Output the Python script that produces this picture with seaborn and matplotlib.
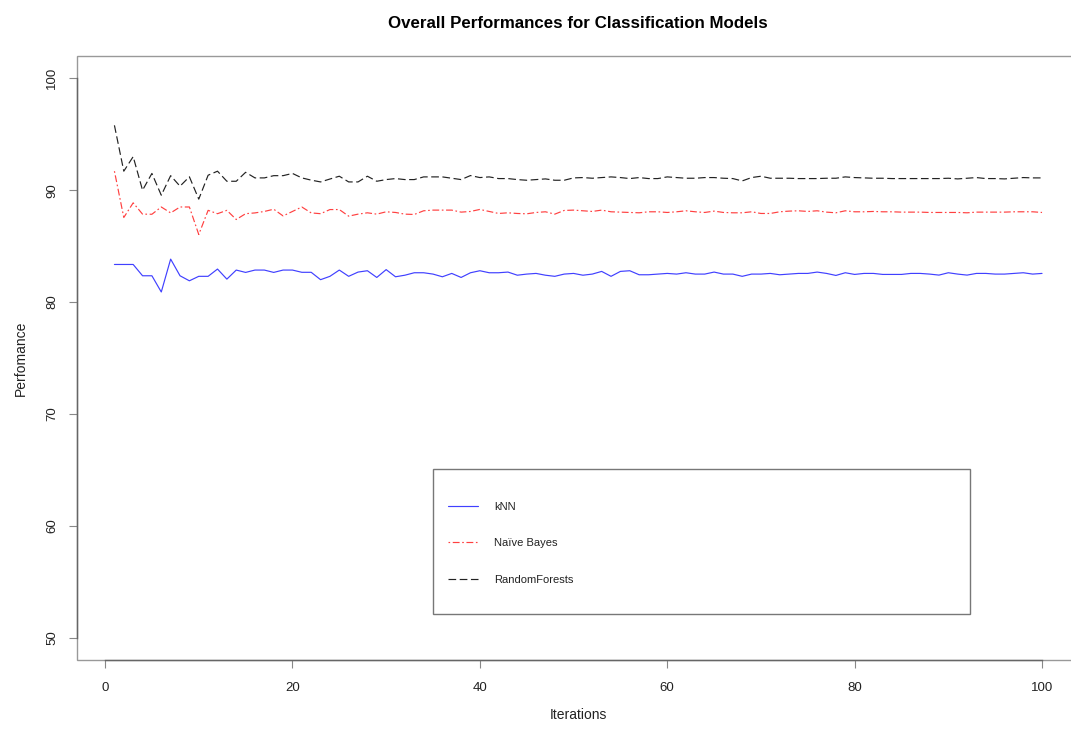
import numpy as np
import pandas as pd
import matplotlib
matplotlib.use("Agg")
import matplotlib.pyplot as plt
from matplotlib.patches import Rectangle
import seaborn as sns

# Values
iterations = list(range(1, 101))

knn = [83.36, 83.36, 83.36, 82.35, 82.35, 80.9, 83.84, 82.35, 81.9, 82.3,
       82.3, 82.95, 82.05, 82.86, 82.65, 82.86, 82.86, 82.65, 82.86, 82.86,
       82.66, 82.66, 82.0, 82.3, 82.86, 82.3, 82.68, 82.8, 82.2, 82.9,
       82.26, 82.4, 82.62, 82.62, 82.5, 82.26, 82.56, 82.2, 82.62, 82.8,
       82.62, 82.62, 82.68, 82.4, 82.5, 82.56, 82.4, 82.3, 82.5, 82.56,
       82.4, 82.5, 82.74, 82.3, 82.74, 82.8, 82.44, 82.44, 82.5, 82.56,
       82.5, 82.62, 82.5, 82.5, 82.68, 82.5, 82.5, 82.3, 82.5, 82.5,
       82.56, 82.44, 82.5, 82.56, 82.56, 82.68, 82.56, 82.38, 82.62, 82.47,
       82.56, 82.56, 82.47, 82.47, 82.47, 82.56, 82.56, 82.5, 82.41, 82.62,
       82.5, 82.41, 82.56, 82.56, 82.5, 82.5, 82.56, 82.62, 82.5, 82.56]

naive_bayes = [91.7, 87.56, 88.87, 87.86, 87.85, 88.5, 87.97, 88.5, 88.5, 86.04,
               88.2, 87.9, 88.2, 87.38, 87.9, 87.97, 88.1, 88.3, 87.7, 88.1,
               88.5, 87.97, 87.9, 88.27, 88.27, 87.68, 87.86, 87.98, 87.86, 88.07,
               88.01, 87.86, 87.83, 88.16, 88.22, 88.22, 88.22, 88.04, 88.10, 88.28,
               88.10, 87.92, 87.98, 87.92, 87.89, 88.01, 88.07, 87.86, 88.19, 88.22,
               88.16, 88.10, 88.22, 88.07, 88.04, 88.01, 87.98, 88.07, 88.07, 88.01,
               88.07, 88.16, 88.07, 88.01, 88.13, 88.01, 87.98, 87.98, 88.07, 87.92,
               87.92, 88.07, 88.13, 88.16, 88.10, 88.16, 88.04, 87.98, 88.16, 88.07,
               88.07, 88.10, 88.07, 88.07, 88.04, 88.04, 88.04, 88.01, 88.01, 88.01,
               88.01, 87.98, 88.04, 88.04, 88.04, 88.04, 88.07, 88.07, 88.07, 88.01]

random_forests = [95.8, 91.7, 93.0, 90.0, 91.5, 89.55, 91.3, 90.36, 91.2, 89.2,
                  91.34, 91.7, 90.8, 90.8, 91.6, 91.1, 91.1, 91.3, 91.3, 91.5,
                  91.1, 90.9, 90.74, 91.0, 91.25, 90.74, 90.74, 91.25, 90.8, 90.95,
                  91.04, 90.95, 90.95, 91.19, 91.19, 91.19, 91.07, 90.95, 91.31, 91.13,
                  91.19, 91.04, 91.04, 90.95, 90.89, 90.95, 91.01, 90.89, 90.89, 91.10,
                  91.13, 91.07, 91.13, 91.19, 91.13, 91.04, 91.13, 91.04, 91.04, 91.19,
                  91.13, 91.07, 91.07, 91.13, 91.13, 91.07, 91.04, 90.83, 91.13, 91.25,
                  91.07, 91.07, 91.07, 91.04, 91.04, 91.04, 91.07, 91.07, 91.19, 91.13,
                  91.10, 91.07, 91.07, 91.04, 91.04, 91.04, 91.04, 91.04, 91.04, 91.07,
                  91.01, 91.07, 91.13, 91.04, 91.04, 91.01, 91.07, 91.13, 91.10, 91.10]

models = ["kNN", "Naïve Bayes", "RandomForests"]

sns.set_style("white")
plt.rcParams["font.family"] = ["Liberation Sans", "DejaVu Sans"]

df = pd.DataFrame({
    "Iterations": iterations * 3,
    "Perfomance": knn + naive_bayes + random_forests,
    "Model": [m for m in models for _ in iterations],
})

fig = plt.figure(figsize=(10.71, 7.29), dpi=100)
ax = fig.add_axes([0.0722, 0.0947, 0.9354, 0.8285])

colors = {"kNN": "#4040ff", "Naïve Bayes": "#ff4040", "RandomForests": "#222222"}
dashes = {"kNN": "", "Naïve Bayes": (1.4, 2.2, 5.8, 2.2), "RandomForests": (6.5, 3)}

sns.lineplot(data=df, x="Iterations", y="Perfomance", hue="Model", style="Model",
             palette=colors, dashes=dashes, linewidth=0.85, ax=ax, legend=False)

ax.set_xlim(-2.96, 103.96)
ax.set_ylim(48, 102)
ax.set_xticks([0, 20, 40, 60, 80, 100])
ax.set_yticks([50, 60, 70, 80, 90, 100])

# R-like box and axes
ax.patch.set_edgecolor("#999999")
ax.patch.set_linewidth(1.0)
for s in ["top", "right"]:
    ax.spines[s].set_visible(False)
ax.spines["bottom"].set_bounds(0, 100)
ax.spines["left"].set_bounds(50, 100)
for s in ["bottom", "left"]:
    ax.spines[s].set_color("#666666")
    ax.spines[s].set_linewidth(1.0)

ax.tick_params(axis="both", bottom=True, left=True, direction="out", length=5.8,
               width=0.8, color="#888888", labelsize=9.5, labelcolor="#222222")
ax.tick_params(axis="x", pad=10)
ax.tick_params(axis="y", pad=8)
for lab in ax.get_yticklabels():
    lab.set_rotation(90)
    lab.set_va("center")

ax.set_xlabel("Iterations", fontsize=10, color="#222222", labelpad=10)
ax.set_ylabel("Perfomance", fontsize=10, color="#222222", labelpad=13)
ax.set_title("Overall Performances for Classification Models",
             fontsize=12.2, fontweight="bold", color="black", pad=20)

# legend box
ax.add_patch(Rectangle((0.355, 0.0762), 0.536, 0.2398, transform=ax.transAxes,
                       fill=False, edgecolor="#777777", linewidth=1.0, zorder=3))
handles = ax.get_lines()[:3]
leg = ax.legend(handles, models, loc="upper left", bbox_to_anchor=(0.370, 0.2614),
                frameon=False, fontsize=8, borderpad=0, borderaxespad=0,
                handlelength=2.7, handletextpad=1.45, labelspacing=2.36)
for t in leg.get_texts():
    t.set_color("#222222")

plt.savefig("out.png", dpi=100)
plt.close()
